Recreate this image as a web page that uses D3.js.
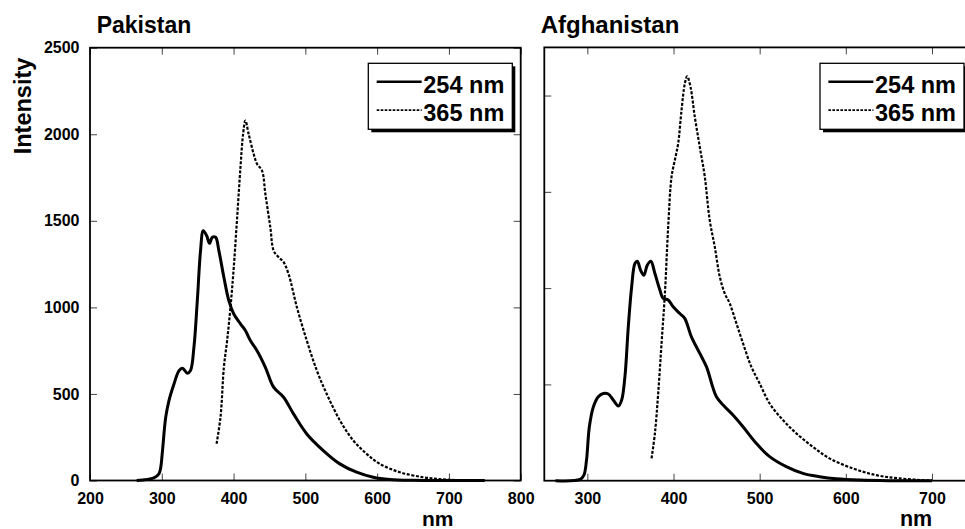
<!DOCTYPE html>
<html>
<head>
<meta charset="utf-8">
<script src="https://cdn.jsdelivr.net/npm/d3@7"></script>
<style>
  html, body { margin: 0; padding: 0; background: #fff; }
  svg { display: block; }
  text { font-family: "Liberation Sans", Arial, sans-serif; font-weight: bold; fill: #000; }
</style>
</head>
<body>
<svg id="chart" width="965" height="529"></svg>
<script>
// Emission spectra: [wavelength nm, intensity]
const pakistan254 = [
  [265,0],[289,15],[296,38],[298.6,77],[301,173],[305.5,366],[310,462],[317,558],[324,635],
  [328.7,649],[335.6,620],[340,635],[344.8,770],[349.5,1039],[354,1328],[357.8,1443],
  [362.4,1415],[366.6,1370],[370.3,1405],[375,1405],[379.5,1328],[386.5,1174],[393.4,1039],
  [400.3,962],[409.6,905],[416.5,866],[423.4,808],[432.7,750],[444.3,654],[455.8,539],
  [469.7,481],[483.5,385],[502,269],[525,173],[548,96],[571.4,48],[594.5,19],[617.6,6],
  [650,1],[750,0]
];
const pakistan365 = [
  [376.3,212],[381.8,366],[386.5,654],[391,808],[395.7,1001],[400.3,1232],[405,1520],
  [409.6,1809],[413.3,2002],[416.5,2079],[421,2002],[428,1886],[432.7,1828],[439.6,1790],
  [444.3,1655],[451.2,1463],[455.8,1328],[462.7,1290],[469.7,1261],[476.6,1193],[488.2,1001],
  [502,808],[516,635],[529.8,500],[548.3,346],[566.8,231],[585.3,154],[603.7,96],[631.5,48],
  [663.8,19],[687,8],[720,0]
];
const afghanistan254 = [
  [263,0],[291.5,7],[296,29],[299,107],[302.3,280],[307,384],[312.7,436],[318.5,453],
  [324.3,450],[330,419],[336,388],[339.8,419],[343.6,540],[347.5,799],[351.4,1007],
  [355.2,1128],[358,1140],[361.8,1093],[365.6,1067],[369.5,1119],[373.7,1140],[378.4,1076],
  [384.2,990],[388,946],[393.8,938],[399.6,903],[407.3,868],[413,843],[420.8,747],[430.5,661],
  [438.2,592],[449.8,436],[459.5,384],[469,341],[480.7,280],[496,194],[511.6,125],[530.9,73],
  [550.2,38],[569.5,21],[588.8,10],[615.8,3],[650,0],[700,0]
];
const afghanistan365 = [
  [374.5,116],[378.4,246],[382.2,453],[386.1,713],[390,972],[393.8,1318],[397.7,1578],
  [401.5,1664],[405.4,1751],[409.3,1924],[413.1,2062],[415.8,2100],[419.7,2045],[424.7,1889],
  [430.5,1733],[436.3,1578],[442,1353],[447.9,1214],[453.7,1059],[459.5,972],[465.3,920],
  [473,817],[480.7,713],[490.3,592],[500,505],[511.6,401],[527,315],[542.5,246],[561.8,176],
  [581,116],[608,64],[635,29],[662,12],[700,0]
];

const leftXTicks = [200, 300, 400, 500, 600, 700, 800];
const rightXTicks = [300, 400, 500, 600, 700];
const leftYTicks = [0, 500, 1000, 1500, 2000, 2500];
const rightYTicks = [500, 1000, 1500, 2000];
const seriesNames = ["254 nm", "365 nm"];

const svg = d3.select("#chart");

function drawPanel(cfg) {
  const x = d3.scaleLinear().domain(cfg.xDomain).range(cfg.xRange);
  const y = d3.scaleLinear().domain(cfg.yDomain).range(cfg.yRange);
  const g = svg.append("g");
  const [x0, x1] = cfg.xRange;
  const [yb, yt] = cfg.yRange;

  // inward ticks on all four sides
  const tickStyle = sel => {
    sel.select(".domain").remove();
    sel.selectAll(".tick line").attr("stroke", "#444").attr("stroke-width", 1);
    sel.selectAll(".tick text").style("font-size", "16px").style("font-family", "Liberation Sans, Arial, sans-serif").style("font-weight", "bold").attr("fill", "#000");
  };
  g.append("g").attr("transform", `translate(0,${yb})`)
    .call(d3.axisBottom(x).tickValues(cfg.xTicks).tickFormat(d3.format("d")).tickSizeInner(-7).tickSizeOuter(0).tickPadding(11.8))
    .call(tickStyle);
  g.append("g").attr("transform", `translate(0,${yt})`)
    .call(d3.axisTop(x).tickValues(cfg.xTicks).tickFormat("").tickSizeInner(-7).tickSizeOuter(0))
    .call(tickStyle);
  g.append("g").attr("transform", `translate(${x0},0)`)
    .call(d3.axisLeft(y).tickValues(cfg.yTicks).tickFormat(cfg.yLabels ? d3.format("d") : "").tickSizeInner(-7).tickSizeOuter(0).tickPadding(10.5))
    .call(tickStyle);
  if (cfg.rightTicks) {
    g.append("g").attr("transform", `translate(${x1},0)`)
      .call(d3.axisRight(y).tickValues(cfg.yTicks).tickFormat("").tickSizeInner(-7).tickSizeOuter(0))
      .call(tickStyle);
  }

  // frame
  g.append("rect").attr("x", x0).attr("y", yt).attr("width", x1 - x0).attr("height", yb - yt)
    .attr("fill", "none").attr("stroke", "#000").attr("stroke-width", 1.8);

  const line = d3.line().x(d => x(d[0])).y(d => y(d[1])).curve(d3.curveCatmullRom.alpha(0.5));
  g.append("path").datum(cfg.s365).attr("d", line)
    .attr("fill", "none").attr("stroke", "#000").attr("stroke-width", 2.2).attr("stroke-dasharray", "3,1.6");
  g.append("path").datum(cfg.s254).attr("d", line)
    .attr("fill", "none").attr("stroke", "#000").attr("stroke-width", 3).attr("stroke-linejoin", "round");

  // title
  g.append("text").attr("x", cfg.titleX).attr("y", 33.3).style("font-size", cfg.titleSize + "px").text(cfg.title);
  // x label
  g.append("text").attr("x", cfg.nmX).attr("y", 525.5).attr("text-anchor", "middle")
    .style("font-size", cfg.nmSize + "px").text("nm");

  // legend box with drop shadow
  const lx = cfg.legendX, ly = 63.3, lw = 144, lh = 66;
  const lg = g.append("g");
  lg.append("rect").attr("x", lx + 3).attr("y", ly + 3).attr("width", lw).attr("height", lh).attr("fill", "#000");
  lg.append("rect").attr("x", lx).attr("y", ly).attr("width", lw).attr("height", lh)
    .attr("fill", "#fff").attr("stroke", "#000").attr("stroke-width", 1.3);
  seriesNames.forEach((name, i) => {
    const yy = ly + 18.5 + i * 28.3;
    lg.append("line").attr("x1", lx + 8.4).attr("x2", lx + 53.4).attr("y1", yy).attr("y2", yy)
      .attr("stroke", "#000").attr("stroke-width", i === 0 ? 2.4 : 1.8)
      .attr("stroke-dasharray", i === 0 ? null : "2.6,1.4");
    lg.append("text").attr("x", lx + 55).attr("y", ly + 30 + i * 27.4)
      .style("font-size", "23.5px").text(name);
  });
}

drawPanel({
  xDomain: [200, 800], xRange: [90, 520.7],
  yDomain: [0, 2500], yRange: [480.5, 47.7],
  xTicks: leftXTicks, yTicks: leftYTicks, yLabels: true, rightTicks: true,
  s254: pakistan254, s365: pakistan365,
  title: "Pakistan", titleX: 96.7, titleSize: 23,
  nmX: 437.7, nmSize: 21, legendX: 368.3
});

drawPanel({
  xDomain: [250, 800], xRange: [544.3, 1018.1],
  yDomain: [0, 2250], yRange: [480.7, 47.4],
  xTicks: rightXTicks, yTicks: rightYTicks, yLabels: false, rightTicks: false,
  s254: afghanistan254, s365: afghanistan365,
  title: "Afghanistan", titleX: 540.7, titleSize: 24,
  nmX: 916, nmSize: 21.5, legendX: 820
});

// y-axis title
svg.append("text").attr("transform", "translate(31,106) rotate(-90)")
  .attr("text-anchor", "middle").style("font-size", "23.5px").text("Intensity");
</script>
</body>
</html>
